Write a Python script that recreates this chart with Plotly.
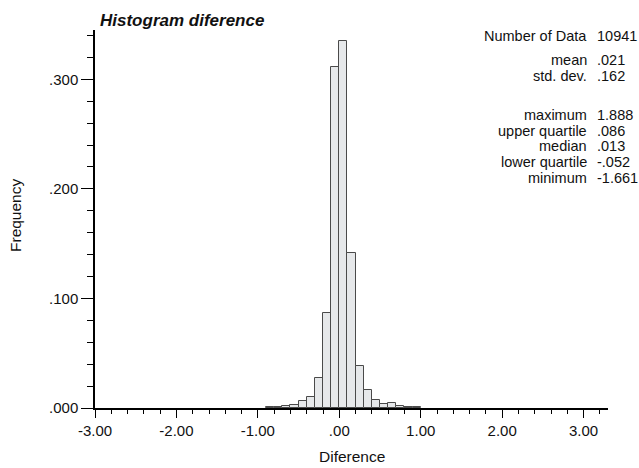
import plotly.graph_objects as go

# ---- data ----
bin_left = [-0.9, -0.8, -0.7, -0.6, -0.5, -0.4, -0.3, -0.2, -0.1, 0.0, 0.1, 0.2,
            0.3, 0.4, 0.5, 0.6, 0.7, 0.8, 0.9]
freq = [0.0010, 0.0005, 0.0021, 0.0027, 0.0062, 0.0103, 0.0276, 0.0869, 0.3110,
        0.3350, 0.1416, 0.0385, 0.0168, 0.0070, 0.0036, 0.0043, 0.0021, 0.0010,
        0.0005]
bin_width = 0.1

x_tickvals = [-3, -2, -1, 0, 1, 2, 3]
x_ticktext = ["-3.00", "-2.00", "-1.00", ".00", "1.00", "2.00", "3.00"]
y_tickvals = [0.0, 0.1, 0.2, 0.3]
y_ticktext = [".000", ".100", ".200", ".300"]

stat_labels = ["Number of Data", "mean", "std. dev.", "maximum", "upper quartile",
               "median", "lower quartile", "minimum"]
stat_values = ["10941", ".021", ".162", "1.888", ".086", ".013", "-.052", "-1.661"]
stat_rows_px = [36, 60, 76, 115, 131, 146, 162, 178]

title = "Histogram diference"
x_title = "Diference"
y_title = "Frequency"

# ---- figure ----
W, H = 639, 468
L, R, T, B = 95, 31, 30, 60
PW, PH = W - L - R, H - T - B
FONT = "Liberation Sans, Arial, Helvetica, sans-serif"
TXT = "#111111"

fig = go.Figure()
fig.add_trace(go.Bar(
    x=bin_left, y=freq, width=bin_width, offset=0,
    marker=dict(color="#e6e8ea", line=dict(color="#4a4a4a", width=1)),
    hoverinfo="skip",
))

fig.update_layout(
    width=W, height=H,
    margin=dict(l=L, r=R, t=T, b=B, pad=0),
    paper_bgcolor="white", plot_bgcolor="white",
    showlegend=False, bargap=0,
    font=dict(family=FONT, size=14, color=TXT),
    xaxis=dict(
        range=[-3.0, 3.3], showgrid=False, zeroline=False,
        showline=True, linecolor="black", linewidth=1.5,
        tickmode="array", tickvals=x_tickvals, ticktext=x_ticktext,
        ticks="outside", ticklen=8, tickwidth=1.2, tickcolor="black",
        tickfont=dict(size=15, color=TXT, family=FONT),
        minor=dict(ticks="outside", ticklen=4, tickwidth=1, tickcolor="black",
                   dtick=0.2, tick0=0, showgrid=False),
    ),
    yaxis=dict(
        range=[0, 0.345], showgrid=False, zeroline=False,
        showline=True, linecolor="black", linewidth=1.5,
        tickmode="array", tickvals=y_tickvals, ticktext=y_ticktext,
        ticks="outside", ticklen=12, tickwidth=1.2, tickcolor="black",
        tickfont=dict(size=15, color=TXT, family=FONT),
        minor=dict(ticks="outside", ticklen=6, tickwidth=1, tickcolor="black",
                   dtick=0.02, tick0=0, showgrid=False),
    ),
)

ann = []
ann.append(dict(text="<b><i>" + title + "</i></b>", xref="paper", yref="paper",
                x=0, y=1, xanchor="left", yanchor="middle", yshift=T - 20,
                xshift=3,
                showarrow=False, font=dict(size=17, color=TXT, family=FONT)))
ann.append(dict(text=x_title, xref="paper", yref="paper", x=0.5, y=0,
                xanchor="center", yanchor="middle", yshift=-(456 - (H - B)),
                xshift=352 - (L + PW / 2),
                showarrow=False, font=dict(size=15.5, color=TXT, family=FONT)))
ann.append(dict(text=y_title, xref="paper", yref="paper", x=0, y=0.5,
                xanchor="center", yanchor="middle", xshift=-(L - 15),
                yshift=(T + PH / 2) - 216,
                textangle=-90, showarrow=False,
                font=dict(size=15.5, color=TXT, family=FONT)))
for lab, val, py in zip(stat_labels, stat_values, stat_rows_px):
    yp = (H - B - py) / PH
    ann.append(dict(text=lab, xref="paper", yref="paper", x=(589 - L) / PW, y=yp,
                    xanchor="right", yanchor="middle", showarrow=False,
                    font=dict(size=14.5, color=TXT, family=FONT)))
    ann.append(dict(text=val, xref="paper", yref="paper", x=(595 - L) / PW, y=yp,
                    xanchor="left", yanchor="middle", showarrow=False,
                    font=dict(size=14.5, color=TXT, family=FONT)))
fig.update_layout(annotations=ann)

fig.write_html("out.html")
